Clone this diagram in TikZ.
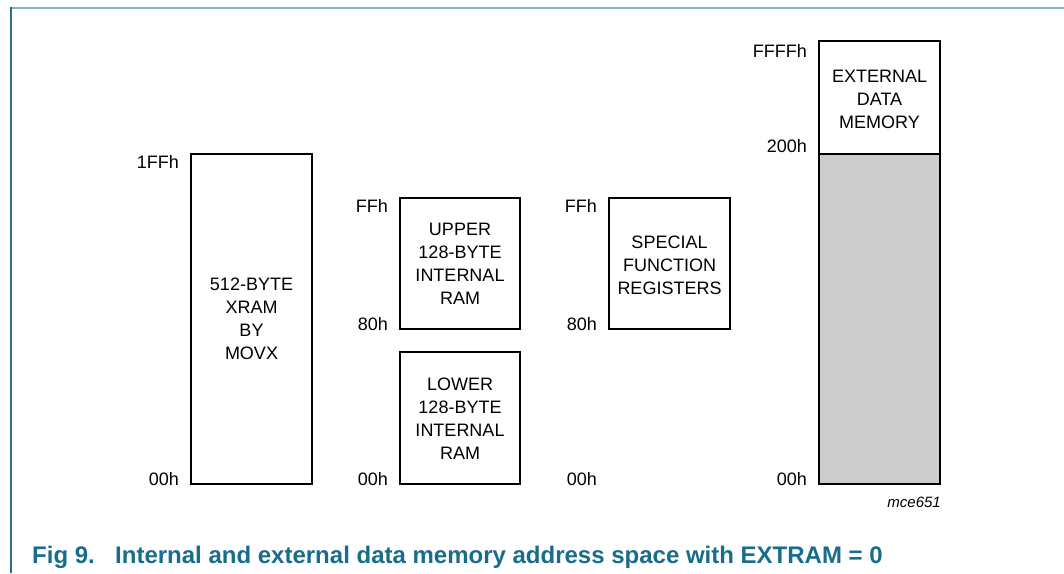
\documentclass[tikz,border=0pt]{standalone}
\usepackage{fontspec}
\setmainfont{Liberation Sans}
\definecolor{framelight}{RGB}{122,180,196}
\definecolor{framedark}{RGB}{40,112,140}
\definecolor{captionblue}{RGB}{24,108,140}
\definecolor{greyfill}{RGB}{204,204,204}
\begin{document}
\begin{tikzpicture}[x=1pt,y=-1pt,
  membox/.style={draw=black,line width=1.9pt,fill=white},
  boxtext/.style={align=center,font=\fontsize{18}{23}\selectfont,inner sep=0pt},
  addr/.style={font=\fontsize{18}{22}\selectfont,inner sep=0pt,anchor=base east},
  tag/.style={font=\fontsize{15}{18}\itshape,inner sep=0pt,anchor=base east},
  caption/.style={font=\fontsize{24}{28}\bfseries\selectfont,text=captionblue,inner sep=0pt,anchor=base west}]
\useasboundingbox (0,0) rectangle (1064,573);

% page frame
\draw[framelight,line width=2pt] (11,7.5) -- (1064,7.5);
\draw[framedark,line width=1.3pt] (11,6.5) -- (11,573);

% 512-byte XRAM
\draw[membox] (191,154) rectangle (312,484);
\node[boxtext] (xram) at (251.5,319) {512-BYTE\\XRAM\\BY\\MOVX};
\node[addr] (xtop) at (179,168) {1FFh};
\node[addr] (xbot) at (179,485) {00h};

% internal RAM, upper and lower halves
\draw[membox] (400,198) rectangle (520,329);
\node[boxtext] (upper) at (460,264) {UPPER\\128-BYTE\\INTERNAL\\RAM};
\draw[membox] (400,352) rectangle (520,484);
\node[boxtext] (lower) at (460,419) {LOWER\\128-BYTE\\INTERNAL\\RAM};
\node[addr] (utop) at (388,212) {FFh};
\node[addr] (ubot) at (388,330) {80h};
\node[addr] (lbot) at (388,485) {00h};

% special function registers
\draw[membox] (609,198) rectangle (730,329);
\node[boxtext] (sfr) at (669.5,265) {SPECIAL\\FUNCTION\\REGISTERS};
\node[addr] (stop) at (597,212) {FFh};
\node[addr] (sbot) at (597,330) {80h};
\node[addr] (szero) at (597,485) {00h};

% external data memory
\fill[greyfill] (819,154) rectangle (940,484);
\draw[line width=1.9pt] (819,41) rectangle (940,484);
\draw[line width=1.9pt] (819,154) -- (940,154);
\node[boxtext] (ext) at (879.5,99) {EXTERNAL\\DATA\\MEMORY};
\node[addr] (etop) at (807,57) {FFFFh};
\node[addr] (emid) at (807,152) {200h};
\node[addr] (ebot) at (807,485) {00h};

\node[tag] (code) at (941,507) {mce651};

% figure caption
\node[caption] (fignum) at (32,563) {Fig 9.};
\node[caption] (figtext) at (115,563) {Internal and external data memory address space with EXTRAM = 0};
\end{tikzpicture}
\end{document}
